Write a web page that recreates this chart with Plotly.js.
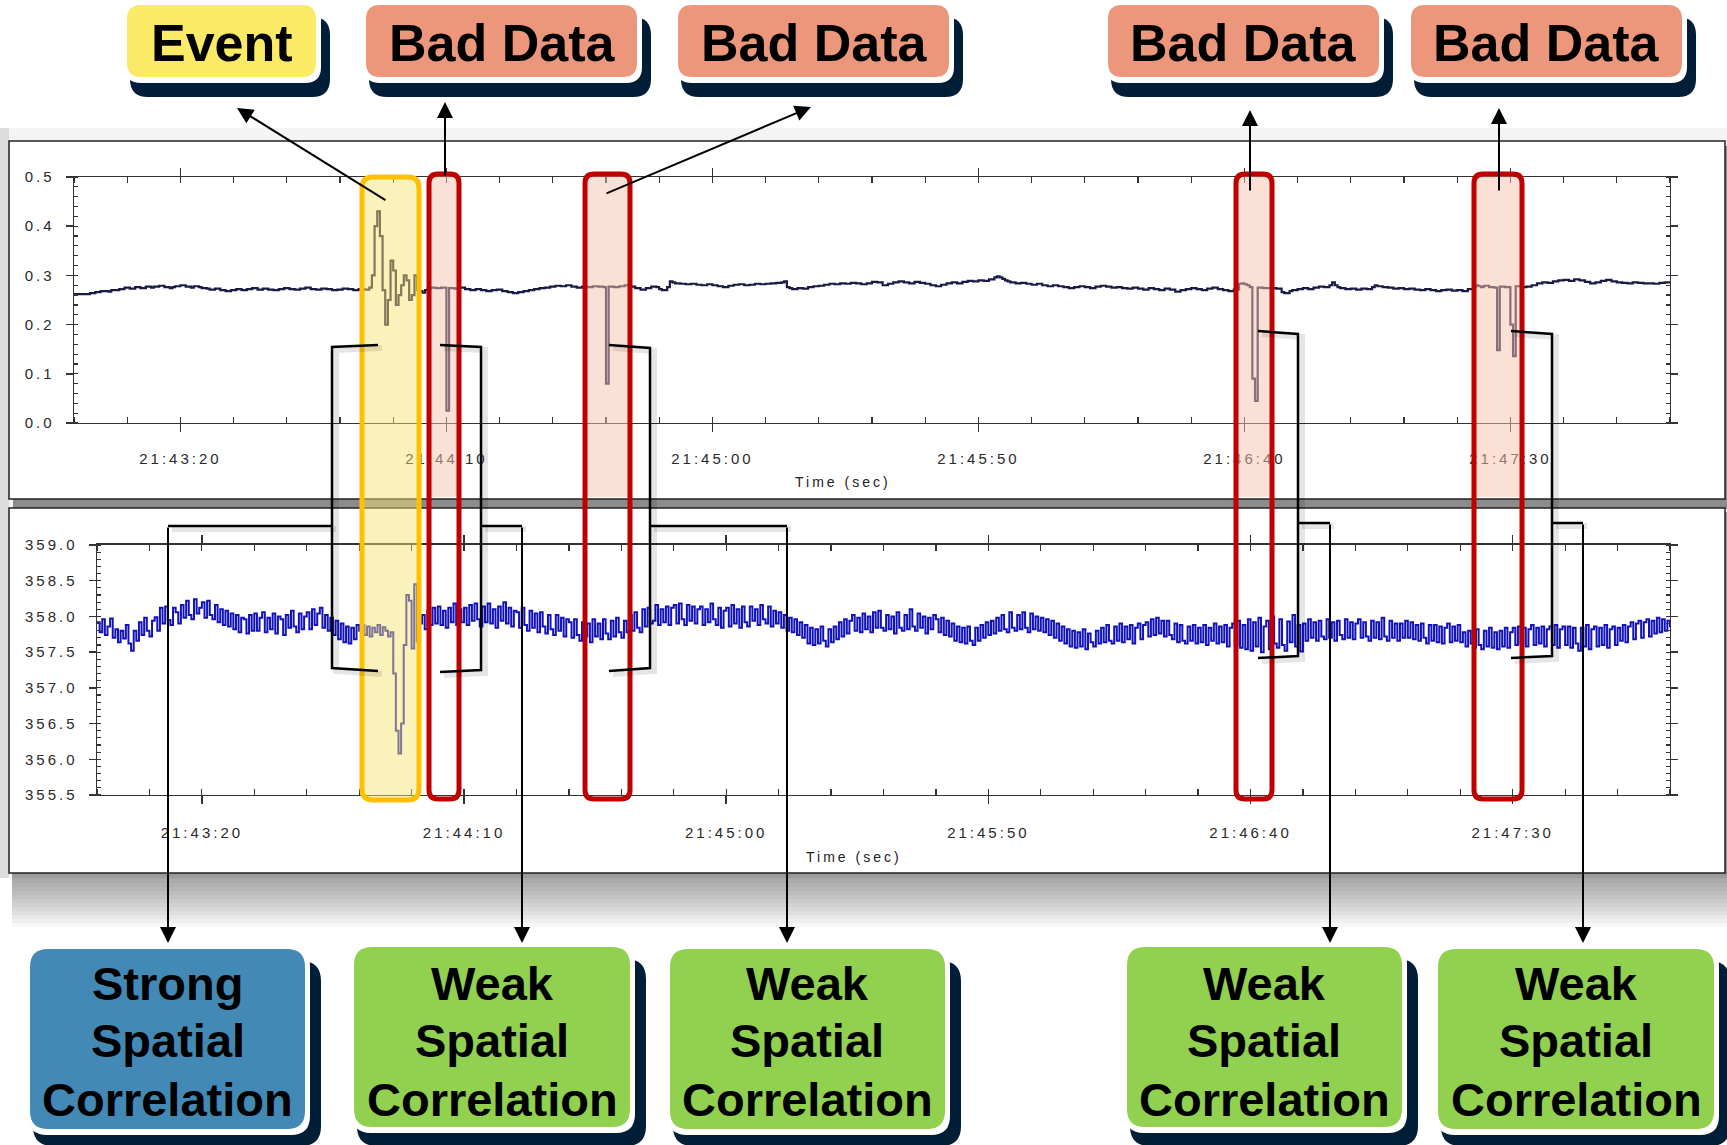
<!DOCTYPE html>
<html><head><meta charset="utf-8">
<script src="https://cdn.plot.ly/plotly-3.0.1.min.js"></script>
<style>
html,body{margin:0;padding:0;background:#fff;}
#chart{width:1727px;height:1145px;}
g.xtick text, g.ytick text, g.x2tick text, g.y2tick text {letter-spacing:3px;}
g.annotation[data-index="0"] text, g.annotation[data-index="1"] text {letter-spacing:3px;}
</style></head><body><div id="chart"></div>
<script>
// ---------------- DATA ----------------
const startTime = '21:43:00';
const endTime = '21:48:00';
const sampleStepSec = 0.5;
const xTickLabels = ['21:43:20','21:44:10','21:45:00','21:45:50','21:46:40','21:47:30'];
const topYTickVals = [0.0,0.1,0.2,0.3,0.4,0.5];
const topYTickText = ['0.0','0.1','0.2','0.3','0.4','0.5'];
const bottomYTickVals = [355.5,356.0,356.5,357.0,357.5,358.0,358.5,359.0];
const bottomYTickText = ['355.5','356.0','356.5','357.0','357.5','358.0','358.5','359.0'];
const xAxisTitle = 'Time (sec)';
const topLabels = ['Event','Bad Data','Bad Data','Bad Data','Bad Data'];
const bottomLabels = [['Strong','Spatial','Correlation'],['Weak','Spatial','Correlation'],['Weak','Spatial','Correlation'],['Weak','Spatial','Correlation'],['Weak','Spatial','Correlation']];

// top panel signal, one value every 0.5 s from 21:43:00
const topValues = [
0.262,0.262,0.262,0.262,0.262,0.262,0.264,0.264,0.266,0.266,0.268,0.268,0.268,0.267,0.270,0.270,0.270,0.272,0.272,0.275,
0.275,0.273,0.273,0.276,0.276,0.274,0.274,0.277,0.277,0.275,0.277,0.277,0.279,0.279,0.276,0.276,0.274,0.276,0.278,0.278,
0.280,0.280,0.277,0.277,0.275,0.278,0.278,0.276,0.274,0.274,0.273,0.271,0.271,0.273,0.273,0.270,0.270,0.268,0.268,0.270,
0.270,0.272,0.272,0.270,0.270,0.272,0.272,0.274,0.274,0.271,0.271,0.273,0.273,0.271,0.271,0.270,0.270,0.272,0.272,0.274,
0.274,0.272,0.272,0.271,0.271,0.273,0.273,0.275,0.275,0.272,0.272,0.271,0.271,0.273,0.273,0.272,0.272,0.270,0.270,0.271,
0.271,0.273,0.273,0.272,0.272,0.270,0.270,0.272,0.272,0.271,0.271,0.275,0.300,0.400,0.430,0.380,0.270,0.200,0.250,0.330,
0.310,0.240,0.260,0.280,0.300,0.290,0.250,0.260,0.300,0.270,0.268,0.265,0.270,0.272,0.275,0.275,0.274,0.274,0.275,0.275,
0.025,0.274,0.274,0.273,0.273,0.275,0.275,0.272,0.272,0.270,0.270,0.272,0.272,0.270,0.270,0.268,0.268,0.270,0.270,0.271,
0.271,0.268,0.268,0.266,0.266,0.264,0.264,0.266,0.266,0.268,0.268,0.270,0.270,0.272,0.272,0.274,0.274,0.275,0.275,0.277,
0.277,0.279,0.279,0.278,0.278,0.280,0.280,0.277,0.277,0.275,0.275,0.277,0.277,0.276,0.276,0.278,0.278,0.277,0.277,0.276,
0.080,0.277,0.277,0.276,0.276,0.278,0.278,0.280,0.280,0.277,0.277,0.274,0.274,0.271,0.271,0.274,0.274,0.277,0.277,0.276,
0.272,0.270,0.270,0.276,0.288,0.286,0.284,0.284,0.283,0.283,0.282,0.282,0.283,0.283,0.281,0.281,0.280,0.280,0.282,0.282,
0.280,0.280,0.278,0.278,0.276,0.276,0.279,0.279,0.281,0.281,0.282,0.282,0.280,0.280,0.281,0.281,0.283,0.283,0.282,0.282,
0.283,0.283,0.284,0.284,0.285,0.285,0.286,0.288,0.276,0.274,0.272,0.272,0.274,0.274,0.273,0.273,0.276,0.276,0.278,0.278,
0.279,0.279,0.281,0.281,0.283,0.283,0.282,0.282,0.284,0.284,0.283,0.283,0.285,0.285,0.284,0.284,0.282,0.282,0.284,0.284,
0.287,0.287,0.286,0.286,0.280,0.280,0.283,0.283,0.286,0.286,0.288,0.288,0.286,0.286,0.284,0.284,0.287,0.287,0.285,0.285,
0.283,0.283,0.280,0.280,0.278,0.278,0.281,0.281,0.284,0.284,0.286,0.286,0.284,0.284,0.287,0.287,0.289,0.289,0.288,0.288,
0.290,0.290,0.289,0.289,0.292,0.292,0.296,0.298,0.296,0.293,0.290,0.288,0.286,0.286,0.284,0.284,0.285,0.285,0.283,0.283,
0.281,0.281,0.283,0.283,0.280,0.280,0.278,0.278,0.280,0.280,0.278,0.278,0.276,0.276,0.274,0.274,0.276,0.276,0.278,0.278,
0.276,0.276,0.274,0.274,0.277,0.277,0.279,0.279,0.277,0.277,0.275,0.275,0.276,0.276,0.274,0.274,0.273,0.273,0.275,0.275,
0.273,0.273,0.271,0.271,0.274,0.274,0.272,0.272,0.270,0.270,0.273,0.273,0.271,0.271,0.267,0.267,0.270,0.270,0.272,0.272,
0.274,0.274,0.272,0.272,0.270,0.270,0.273,0.273,0.275,0.275,0.272,0.272,0.270,0.270,0.268,0.268,0.271,0.271,0.283,0.284,
0.282,0.280,0.276,0.090,0.045,0.275,0.275,0.274,0.274,0.274,0.274,0.274,0.273,0.273,0.266,0.264,0.264,0.268,0.270,0.270,
0.272,0.272,0.274,0.274,0.272,0.272,0.275,0.275,0.277,0.277,0.276,0.276,0.280,0.286,0.280,0.276,0.274,0.274,0.272,0.272,
0.273,0.273,0.271,0.271,0.273,0.273,0.272,0.272,0.276,0.280,0.278,0.278,0.276,0.276,0.275,0.275,0.273,0.273,0.274,0.274,
0.272,0.272,0.273,0.273,0.271,0.271,0.270,0.270,0.272,0.272,0.270,0.270,0.268,0.268,0.270,0.270,0.271,0.271,0.269,0.269,
0.270,0.270,0.268,0.268,0.272,0.272,0.276,0.280,0.278,0.276,0.279,0.279,0.276,0.276,0.275,0.148,0.277,0.277,0.276,0.276,
0.200,0.136,0.278,0.278,0.276,0.276,0.277,0.277,0.280,0.280,0.284,0.284,0.286,0.286,0.285,0.285,0.288,0.288,0.290,0.290,
0.291,0.291,0.289,0.289,0.292,0.292,0.290,0.290,0.287,0.287,0.284,0.284,0.286,0.286,0.289,0.289,0.291,0.291,0.288,0.288,
0.286,0.286,0.285,0.285,0.284,0.284,0.286,0.286,0.285,0.285,0.284,0.284,0.284,0.284,0.283,0.283,0.285,0.285,0.286,0.286,0.286
];

// bottom panel signal, one value every 0.5 s from 21:43:00
const bottomValues = [
357.92,357.78,357.96,357.74,357.86,357.97,357.70,357.82,357.64,357.80,357.69,357.88,357.62,357.52,357.80,357.66,357.92,357.74,357.98,357.80,
357.72,357.94,357.99,357.80,358.12,357.90,358.14,357.95,357.88,358.12,358.06,357.90,358.16,357.98,358.22,358.02,357.96,358.24,358.04,358.12,
358.20,357.98,358.22,358.02,357.96,358.16,357.92,358.10,357.88,358.08,357.86,358.04,357.82,358.02,357.78,357.98,357.96,357.76,358.02,357.80,
358.04,357.80,357.98,358.06,357.78,357.98,357.82,358.04,357.76,358.00,357.96,357.74,358.02,357.84,358.08,357.86,357.78,358.04,357.82,358.00,
358.06,357.82,358.10,357.88,358.04,358.12,357.84,358.02,357.80,357.98,357.74,357.94,357.68,357.90,357.64,357.86,357.62,357.84,357.68,357.88,
357.80,357.88,357.74,357.86,357.72,357.84,357.78,357.88,357.74,357.85,357.80,357.72,357.78,357.20,356.40,356.08,356.50,357.60,358.30,358.22,
357.55,358.45,357.65,357.90,358.02,357.82,358.08,357.88,358.12,357.90,358.14,357.88,358.08,357.84,358.12,357.92,358.18,357.88,358.10,357.92,
358.12,357.88,358.16,357.94,358.18,357.96,357.86,358.14,357.92,358.18,357.90,358.10,357.84,358.14,357.94,358.20,357.90,358.12,357.86,358.08,
358.06,357.84,358.12,357.88,357.80,358.08,357.84,358.04,357.78,358.06,357.86,357.76,358.02,357.82,357.74,358.02,357.80,357.98,357.72,357.96,
357.92,357.70,357.96,357.74,357.66,357.92,357.72,357.90,357.64,357.96,357.72,357.90,357.68,357.96,357.76,357.68,357.94,357.72,357.98,357.78,
357.70,357.94,357.78,358.02,357.80,358.06,357.84,357.78,358.10,357.86,358.12,357.90,357.94,358.16,357.88,358.10,357.92,358.14,357.88,358.12,
358.16,357.90,358.18,357.96,357.88,358.16,357.94,358.14,357.90,358.10,358.14,357.88,358.10,357.92,358.18,357.96,357.88,358.12,357.84,358.08,
358.12,357.86,358.16,357.90,358.10,357.84,358.14,357.92,357.86,358.14,357.94,358.10,357.88,358.16,357.96,357.90,358.14,357.86,358.08,357.90,
358.06,357.84,358.02,357.80,357.98,357.78,357.96,357.74,357.92,357.70,357.88,357.62,357.84,357.60,357.82,357.62,357.86,357.66,357.58,357.82,
357.64,357.86,357.68,357.92,357.72,357.96,357.76,357.94,358.02,357.80,357.98,357.78,358.04,357.82,358.00,357.78,358.06,357.84,358.08,357.84,
357.80,358.02,357.82,358.00,357.76,358.06,357.84,357.80,358.02,357.82,358.10,357.86,357.80,358.04,357.84,358.00,357.76,357.98,357.82,358.02,
357.96,357.78,357.98,357.74,357.94,357.72,357.90,357.66,357.86,357.64,357.84,357.62,357.86,357.66,357.60,357.84,357.66,357.88,357.70,357.92,
357.74,357.94,357.76,357.98,357.80,358.02,357.82,357.78,358.06,357.84,357.80,358.02,357.82,358.06,357.84,357.78,358.04,357.82,358.00,357.80,
357.98,357.78,357.96,357.74,357.94,357.70,357.90,357.66,357.86,357.62,357.82,357.58,357.80,357.56,357.78,357.58,357.82,357.54,357.76,357.64,
357.58,357.80,357.62,357.84,357.64,357.88,357.66,357.62,357.86,357.66,357.90,357.64,357.86,357.68,357.88,357.62,357.84,357.90,357.68,357.88,
357.92,357.72,357.96,357.74,357.98,357.76,357.94,357.72,357.94,357.74,357.68,357.90,357.64,357.88,357.66,357.62,357.86,357.66,357.88,357.62,
357.84,357.64,357.88,357.60,357.84,357.66,357.90,357.62,357.86,357.64,357.88,357.58,357.84,357.90,357.60,357.94,357.56,357.88,357.54,357.96,
357.52,357.92,357.58,357.98,357.50,357.86,357.94,357.54,358.00,357.62,357.56,357.96,357.60,357.52,357.93,357.64,358.02,357.58,357.88,357.51,
357.90,357.66,357.96,357.70,357.92,357.66,357.94,357.72,357.68,357.96,357.70,357.92,357.66,357.94,357.74,357.68,357.96,357.70,357.92,357.68,
357.90,357.96,357.70,357.92,357.72,357.66,357.94,357.70,357.92,357.68,357.98,357.72,357.66,357.94,357.70,357.90,357.66,357.90,357.70,357.94,
357.70,357.92,357.68,357.88,357.66,357.90,357.70,357.62,357.88,357.66,357.88,357.64,357.86,357.62,357.84,357.90,357.64,357.86,357.66,357.88,
357.64,357.78,357.58,357.80,357.62,357.56,357.82,357.60,357.54,357.80,357.58,357.84,357.56,357.78,357.54,357.80,357.58,357.84,357.56,357.78,
357.84,357.60,357.86,357.62,357.84,357.58,357.82,357.88,357.60,357.84,357.62,357.86,357.58,357.82,357.86,357.60,357.88,357.56,357.82,357.86,
357.60,357.86,357.56,357.84,357.62,357.52,357.84,357.58,357.88,357.54,357.82,357.86,357.58,357.84,357.60,357.88,357.56,357.82,357.86,357.60,
357.84,357.66,357.88,357.64,357.86,357.92,357.68,357.90,357.94,357.70,357.92,357.96,357.72,357.94,357.76,357.98,357.78,357.96,357.80,357.94,357.85
];

// ---------------- BUILD ----------------
const W = 1727, H = 1145;
const X = v => +(v / W).toFixed(5);
const Y = v => +(1 - v / H).toFixed(5);
function toMs(hms){ const p = hms.split(':').map(Number); return Date.UTC(2000,0,1,p[0],p[1],p[2]); }
const t0 = toMs(startTime), t1 = toMs(endTime);
const topX = topValues.map((v,i) => t0 + i*sampleStepSec*1000);
const bottomX = bottomValues.map((v,i) => t0 + i*sampleStepSec*1000);
const xTickVals = xTickLabels.map(toMs);

function rr(x0,y0,x1,y1,r){
  return 'M'+X(x0+r)+','+Y(y0)+' L'+X(x1-r)+','+Y(y0)+' Q'+X(x1)+','+Y(y0)+' '+X(x1)+','+Y(y0+r)+
    ' L'+X(x1)+','+Y(y1-r)+' Q'+X(x1)+','+Y(y1)+' '+X(x1-r)+','+Y(y1)+
    ' L'+X(x0+r)+','+Y(y1)+' Q'+X(x0)+','+Y(y1)+' '+X(x0)+','+Y(y1-r)+
    ' L'+X(x0)+','+Y(y0+r)+' Q'+X(x0)+','+Y(y0)+' '+X(x0+r)+','+Y(y0)+' Z';
}
function topRounded(x0,y0,x1,y1,r){
  return 'M'+X(x0)+','+Y(y1)+' L'+X(x0)+','+Y(y0+r)+' Q'+X(x0)+','+Y(y0)+' '+X(x0+r)+','+Y(y0)+
    ' L'+X(x1-r)+','+Y(y0)+' Q'+X(x1)+','+Y(y0)+' '+X(x1)+','+Y(y0+r)+' L'+X(x1)+','+Y(y1)+' Z';
}
function poly(pts){ return 'M' + pts.map(p => X(p[0])+','+Y(p[1])).join(' L'); }
function prect(x0,y0,x1,y1,fill,line,lw,layer){
  return {type:'rect',xref:'paper',yref:'paper',x0:X(x0),x1:X(x1),y0:Y(y1),y1:Y(y0),
    fillcolor:fill,line:{color:line||'rgba(0,0,0,0)',width:lw||0},layer:layer||'below'};
}
function ppath(path,fill,line,lw,layer){
  return {type:'path',xref:'paper',yref:'paper',path:path,fillcolor:fill,
    line:{color:line||'rgba(0,0,0,0)',width:lw||0},layer:layer||'above'};
}

const shapes = [];
// page / panel backgrounds
shapes.push(prect(0,128,W,878,'#f4f4f4'));
shapes.push(prect(0,128,9,878,'#dcdcdc'));
shapes.push(prect(13,146,W,509,'#8c8c8c'));
shapes.push(prect(9,141,1725,499,'#ffffff','#222',1.5));
for (let k=0;k<14;k++) shapes.push(prect(12,512,W,875+k*4,'rgba(0,0,0,0.03)'));
shapes.push(prect(9,508,1725,873,'#ffffff','#222',1.5));

// highlight boxes
const redBoxes = [[429,459],[585,630],[1236,1272],[1474,1522]];
redBoxes.forEach(b => {
  shapes.push(ppath(topRounded(b[0],174,b[1],497,9),'rgba(248,196,172,0.5)'));
  shapes.push(ppath(rr(b[0],174,b[1],799,9),'rgba(0,0,0,0)','#C00000',5));
});
shapes.push(ppath(rr(362,177,419,800,11),'rgba(247,226,110,0.48)','#FFC000',5));

// brackets and connectors
const brackets = [
  [[378,345],[332,347],[332,668],[378,671]],
  [[440,345],[481,347],[481,670],[440,672]],
  [[609,345],[650,348],[650,668],[609,671]],
  [[1258,331],[1298,334],[1298,656],[1258,658]],
  [[1511,331],[1552,334],[1552,656],[1511,658]]
];
const connectors = [
  [[332,526],[168,526]],
  [[481,526],[522,526]],
  [[650,526],[787,526]],
  [[1298,523],[1330,523]],
  [[1552,523],[1583,523]]
];
brackets.concat(connectors).forEach(pts => {
  shapes.push(ppath(poly(pts.map(p=>[p[0]+4,p[1]+3])),'rgba(0,0,0,0)','rgba(0,0,0,0.10)',6));
});
brackets.concat(connectors).forEach(pts => {
  shapes.push(ppath(poly(pts),'rgba(0,0,0,0)','#000',2.5));
});

// label boxes
const topBoxes = [[127,316],[366,637],[678,949],[1108,1379],[1411,1682]];
const topColors = ['#FAEA66','#EC977B','#EC977B','#EC977B','#EC977B'];
topBoxes.forEach((b,i) => {
  shapes.push(ppath(rr(b[0]+3,17,b[1]+14,97,18),'#001E38'));
  shapes.push(ppath(rr(b[0]-2,3,b[1]+5,83,16),'#ffffff'));
  shapes.push(ppath(rr(b[0],5,b[1],77,14),topColors[i]));
});
const botBoxes = [[30,305,949,1129],[354,630,947,1127],[670,945,949,1129],[1127,1402,947,1127],[1438,1714,949,1129]];
const botColors = ['#4389B6','#92D050','#92D050','#92D050','#92D050'];
botBoxes.forEach((b,i) => {
  shapes.push(ppath(rr(b[0]+3,b[2]+12,b[1]+16,1146,20),'#001E38'));
  shapes.push(ppath(rr(b[0]-2,b[2]-2,b[1]+5,b[3]+6,19),'#ffffff'));
  shapes.push(ppath(rr(b[0],b[2],b[1],b[3],18),botColors[i]));
});

// annotations
const annotations = [];
const labelFont = 'Liberation Sans, Arial, sans-serif';
annotations.push({text:xAxisTitle,xref:'paper',yref:'paper',x:X(843),y:Y(482),showarrow:false,xanchor:'center',yanchor:'middle',font:{family:labelFont,size:14,color:'#222'}});
annotations.push({text:xAxisTitle,xref:'paper',yref:'paper',x:X(854),y:Y(857),showarrow:false,xanchor:'center',yanchor:'middle',font:{family:labelFont,size:14,color:'#222'}});
topBoxes.forEach((b,i) => {
  annotations.push({text:'<b>'+topLabels[i]+'</b>',xref:'paper',yref:'paper',x:X((b[0]+b[1])/2),y:Y(43),showarrow:false,xanchor:'center',yanchor:'middle',font:{family:labelFont,size:52,color:'#000'}});
});
const lineY = [983,1041,1099];
botBoxes.forEach((b,i) => {
  bottomLabels[i].forEach((t,j) => {
    annotations.push({text:'<b>'+t+'</b>',xref:'paper',yref:'paper',x:X((b[0]+b[1])/2),y:Y(lineY[j]),showarrow:false,xanchor:'center',yanchor:'middle',font:{family:labelFont,size:47,color:'#000'}});
  });
});
// arrows: head, tail (pixel positions)
const arrows = [
  [[237,108],[387,201]],
  [[445,102],[445,177]],
  [[811,107],[605,194]],
  [[1250,110],[1250,192]],
  [[1499,108],[1499,192]],
  [[168,943],[168,526]],
  [[522,943],[522,526]],
  [[787,943],[787,526]],
  [[1330,943],[1330,523]],
  [[1583,943],[1583,523]]
];
arrows.forEach(a => {
  annotations.push({text:'',xref:'paper',yref:'paper',x:X(a[0][0]),y:Y(a[0][1]),ax:a[1][0]-a[0][0],ay:a[1][1]-a[0][1],
    showarrow:true,arrowhead:2,arrowsize:1.6,arrowwidth:2,arrowcolor:'#000',standoff:0,startstandoff:0});
});

const tickFont = {family:labelFont,size:15,color:'#2a2a2a'};
function xAx(domain, anchor, standoff){
  return {domain:domain,anchor:anchor,type:'date',range:[t0,t1],tickmode:'array',tickvals:xTickVals,ticktext:xTickLabels,
    ticks:'outside',ticklen:8,tickwidth:1.5,tickcolor:'#333',showline:true,linecolor:'#333',linewidth:1.5,
    mirror:'allticks',showgrid:false,zeroline:false,tickfont:tickFont,ticklabelstandoff:standoff,fixedrange:true,
    minor:{tickmode:'linear',tick0:t0,dtick:10000,ticks:'inside',ticklen:6,tickwidth:1.2,tickcolor:'#333',showgrid:false}};
}
function yAx(domain, anchor, range, vals, text, minorStep, standoff){
  return {domain:domain,anchor:anchor,range:range,tickmode:'array',tickvals:vals,ticktext:text,
    ticks:'outside',ticklen:7,tickwidth:1.5,tickcolor:'#333',showline:true,linecolor:'#333',linewidth:1.5,
    mirror:'allticks',showgrid:false,zeroline:false,tickfont:tickFont,ticklabelstandoff:standoff,fixedrange:true,
    minor:{tickmode:'linear',tick0:range[0],dtick:minorStep,ticks:'inside',ticklen:4,tickwidth:1.2,tickcolor:'#333',showgrid:false}};
}

const data = [
  {x:topX,y:topValues,type:'scatter',mode:'lines',xaxis:'x',yaxis:'y',line:{color:'#1a1a44',width:2.2,shape:'hv'},hoverinfo:'skip'},
  {x:bottomX,y:bottomValues,type:'scatter',mode:'lines',xaxis:'x2',yaxis:'y2',line:{color:'#1212bc',width:2.0,shape:'hv'},hoverinfo:'skip'}
];
const layout = {
  width:W,height:H,margin:{l:0,r:0,t:0,b:0},paper_bgcolor:'#ffffff',plot_bgcolor:'rgba(0,0,0,0)',showlegend:false,
  xaxis:xAx([X(74),X(1670)],'y',14),
  yaxis:yAx([Y(423),Y(177)],'x',[0,0.5],topYTickVals,topYTickText,0.02,8),
  xaxis2:xAx([X(97),X(1670)],'y2',16),
  yaxis2:yAx([Y(795),Y(545)],'x2',[355.5,359.0],bottomYTickVals,bottomYTickText,0.1,8),
  shapes:shapes,annotations:annotations
};
Plotly.newPlot('chart',data,layout,{displayModeBar:false,staticPlot:true});
</script></body></html>
